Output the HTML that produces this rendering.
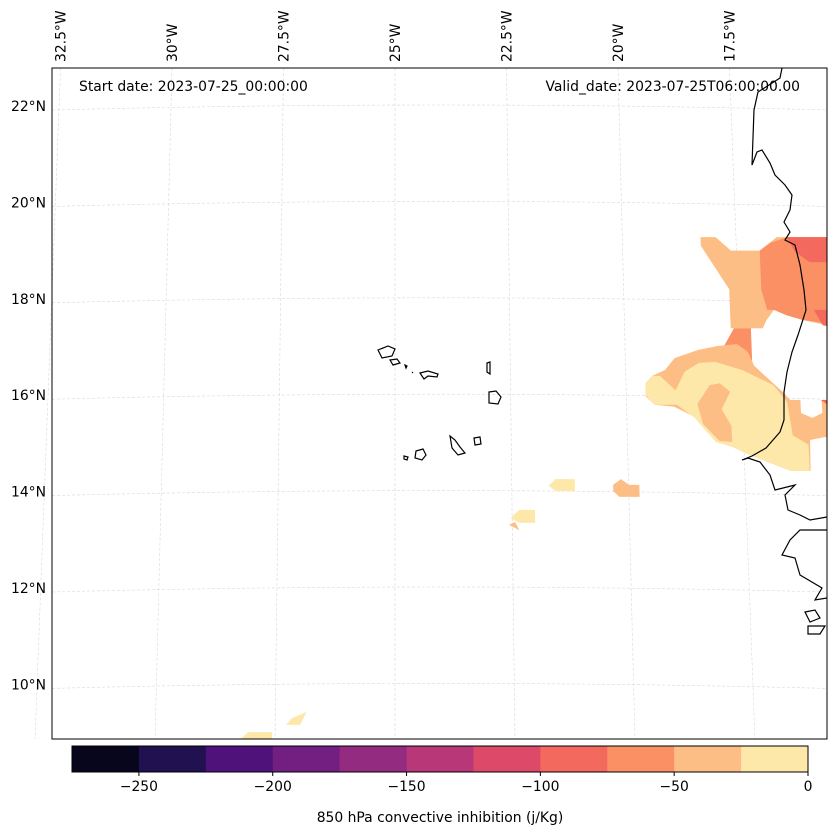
<!DOCTYPE html>
<html><head><meta charset="utf-8"><style>
body{margin:0;background:#fff;}
svg{display:block;font-family:"DejaVu Sans","Liberation Sans",sans-serif;}
</style></head><body>
<svg id="c" width="837" height="836" viewBox="0 0 837 836">
<defs><clipPath id="mapclip"><rect x="52" y="68" width="775" height="671"/></clipPath></defs>
<rect x="0" y="0" width="837" height="836" fill="#fff"/>
<g id="grid"></g>
<g id="fills" clip-path="url(#mapclip)"></g>
<g id="coast" clip-path="url(#mapclip)"></g>
<rect x="52" y="68" width="775" height="671" fill="none" stroke="#000" stroke-width="1"/>
<text x="79" y="91" font-size="13.9">Start date: 2023-07-25_00:00:00</text>
<text x="800" y="91" font-size="13.9" text-anchor="end">Valid_date: 2023-07-25T06:00:00.00</text>
<g id="lonlab"></g>
<g id="latlab"></g>
<g id="cbar"></g>
<text x="440" y="822" font-size="13.9" text-anchor="middle">850 hPa convective inhibition (j/Kg)</text>
</svg>
<script>
const levels=[-275,-250,-225,-200,-175,-150,-125,-100,-75,-50,-25,0];
const colors=["#07061c","#221150","#4f127b","#721f81","#932b80","#b73779","#dd4968","#f3695e","#fc9065","#fdbe85","#fde8a9"];
const cbTicks=[-250,-200,-150,-100,-50,0];
const latTicks=[22,20,18,16,14,12,10];
const lonTicks=[-32.5,-30,-27.5,-25,-22.5,-20,-17.5];
// contour polygons: [colorIndex, [[lon,lat],...]]
const contours=[
[9,[[-18.28,19.28],[-17.95,19.28],[-17.62,19.0],[-16.99,19.0],[-16.6,19.28],[-15.3,19.28],[-15.3,17.39],[-16.11,17.56],[-16.46,17.66],[-16.73,17.77],[-16.90,17.56],[-16.99,17.39],[-17.69,17.39],[-17.69,17.87],[-17.69,18.20],[-18.28,19.1]]],
[8,[[-16.99,19.0],[-16.75,19.16],[-16.38,19.28],[-15.3,19.28],[-15.3,17.39],[-15.68,17.50],[-16.11,17.56],[-16.46,17.66],[-16.73,17.77],[-16.88,17.77],[-16.99,18.20]]],
[8,[[-17.62,17.39],[-17.25,17.39],[-17.25,16.56],[-17.49,16.85],[-17.86,17.0]]],
[7,[[-16.38,19.28],[-15.3,19.28],[-15.3,18.76],[-15.90,18.76],[-16.22,18.98]]],
[7,[[-15.86,17.77],[-15.3,17.77],[-15.3,17.39],[-15.68,17.45]]],
[9,[[-19.58,16.25],[-19.43,16.40],[-19.15,16.52],[-18.93,16.77],[-18.41,16.94],[-17.99,17.02],[-17.56,17.06],[-17.34,16.90],[-17.21,16.61],[-16.62,16.07],[-16.46,15.90],[-16.24,15.90],[-16.24,15.63],[-16.00,15.53],[-15.78,15.63],[-15.78,15.90],[-15.3,15.85],[-15.3,15.13],[-15.76,15.13],[-16.07,15.07],[-16.09,14.43],[-16.51,14.43],[-17.38,14.76],[-17.73,14.92],[-18.10,15.07],[-18.54,15.55],[-18.97,15.76],[-19.39,15.80],[-19.58,15.98]]],
[10,[[-19.58,16.25],[-19.43,16.40],[-19.26,16.40],[-18.93,16.10],[-18.72,16.49],[-18.41,16.67],[-18.06,16.69],[-17.47,16.52],[-16.81,16.21],[-16.53,15.86],[-16.44,15.17],[-16.11,14.97],[-16.11,14.43],[-16.51,14.43],[-17.38,14.76],[-17.73,14.92],[-18.10,15.03],[-18.54,15.53],[-18.91,15.80],[-19.39,15.80],[-19.58,16.0]]],
[9,[[-18.19,16.21],[-17.97,16.25],[-17.75,16.07],[-17.95,15.71],[-17.75,15.36],[-17.75,15.03],[-18.02,15.05],[-18.36,15.40],[-18.47,15.82]]],
[7,[[-15.8,15.90],[-15.3,15.90],[-15.3,15.63],[-15.5,15.70]]],
[10,[[-21.71,14.12],[-21.56,14.26],[-21.15,14.26],[-21.15,14.01],[-21.56,14.01]]],
[9,[[-20.33,14.14],[-20.16,14.26],[-19.99,14.14],[-19.77,14.14],[-19.77,13.89],[-20.20,13.89],[-20.33,14.01]]],
[10,[[-22.53,13.45],[-22.35,13.62],[-22.01,13.62],[-22.01,13.35],[-22.35,13.35]]],
[9,[[-22.57,13.31],[-22.44,13.37],[-22.35,13.20]]],
[10,[[-28.21,8.87],[-28.06,9.01],[-27.56,9.01],[-27.56,8.87]]],
[10,[[-27.27,9.16],[-27.15,9.30],[-26.85,9.43],[-26.98,9.16]]]
];
function px(lon,lat){const y=106+(22-lat)*48.2;const t=(y-68)/671;const x=395+(lon+25)*(44.6+3.4*t);return [x,y];}
const ns="http://www.w3.org/2000/svg";
function el(tag,attrs,parent){const e=document.createElementNS(ns,tag);for(const k in attrs)e.setAttribute(k,attrs[k]);parent.appendChild(e);return e;}
const grid=document.getElementById('grid');
for(const lon of lonTicks){const a=px(lon,22.79),b=px(lon,8.87);
const l=el('line',{x1:a[0],y1:68,x2:b[0],y2:739,stroke:'#d8d8d8','stroke-width':0.6,'stroke-dasharray':'3,2'},grid);

const tx=el('text',{x:0,y:0,'font-size':13.9,transform:`translate(${a[0]+5},62) rotate(-90)`},document.getElementById('lonlab'));
tx.textContent=(-lon)+'°W';}
for(const lat of latTicks){const y=px(-25,lat)[1];
const p=el('path',{d:`M52 ${y+4} Q440 ${y-6} 827 ${y+4}`,fill:'none',stroke:'#d8d8d8','stroke-width':0.6,'stroke-dasharray':'3,2'},grid);

const tx=el('text',{x:46,y:y+5,'font-size':13.9,'text-anchor':'end'},document.getElementById('latlab'));
tx.textContent=lat+'°N';}
const fills=document.getElementById('fills');
for(const [ci,pts] of contours){const d=pts.map((p,i)=>{const q=px(p[0],p[1]);return (i?'L':'M')+q[0].toFixed(1)+' '+q[1].toFixed(1);}).join('')+'Z';
const pa=el('path',{d:d,fill:colors[ci]},fills);}
const coast=document.getElementById('coast');
const coastD="M782 68L780 78L758 92L754 110L752 165L757 152L762 150L770 163L775 175L785 185L792 195L790 210L784 222L790 232L785 240L795 245L800 265L804 290L806 310L798 335L792 352L787 372L784 392L784 420L780 432L766 448L752 456L742 460L748 458L760 462L770 475L775 490L795 485L785 495L788 510L800 515L810 520L827 517M827 530L800 530L790 540L782 555L795 558L800 575L822 588L815 600L827 598M805 612L815 610L820 618L810 622ZM808 626L825 626L820 634L808 634Z";
let cp=el('path',{d:coastD,fill:'none',stroke:'#000','stroke-width':1.2},coast);
const islands=["M378 350L388 346L395 349L392 356L382 358Z","M390 360L397 359L400 363L393 365Z","M405 365L407 366L406 368Z","M412 372L413 373Z","M420 373L428 371L438 374L437 377L428 376L424 379Z","M487 363L490 362L490 374L487 372Z","M489 392L496 391L501 397L498 404L489 403Z","M450 436L455 440L460 447L465 453L458 455L452 448Z","M474 438L480 437L481 444L475 445Z","M416 451L423 449L426 455L422 460L415 458Z","M404 456L408 457L407 460L404 459Z"];
for(const d of islands){const ip=el('path',{d:d,fill:'none',stroke:'#000','stroke-width':1.2},coast);}
const cb=document.getElementById('cbar');const cx0=72,cx1=808,cy=746,ch=26;
function cbx(v){return cx0+(v-levels[0])/(levels[levels.length-1]-levels[0])*(cx1-cx0);}
for(let i=0;i<colors.length;i++){const r=el('rect',{x:cbx(levels[i]),y:cy,width:cbx(levels[i+1])-cbx(levels[i])+0.5,height:ch,fill:colors[i]},cb);
}
el('rect',{x:cx0,y:cy,width:cx1-cx0,height:ch,fill:'none',stroke:'#000','stroke-width':1},cb);
for(const t of cbTicks){const x=cbx(t);el('line',{x1:x,y1:cy+ch,x2:x,y2:cy+ch+4,stroke:'#000'},cb);
const tx=el('text',{x:x,y:cy+ch+19,'font-size':13.9,'text-anchor':'middle'},cb);tx.textContent=(t<0?'\u2212'+(-t):t);
}
</script>
</body></html>
